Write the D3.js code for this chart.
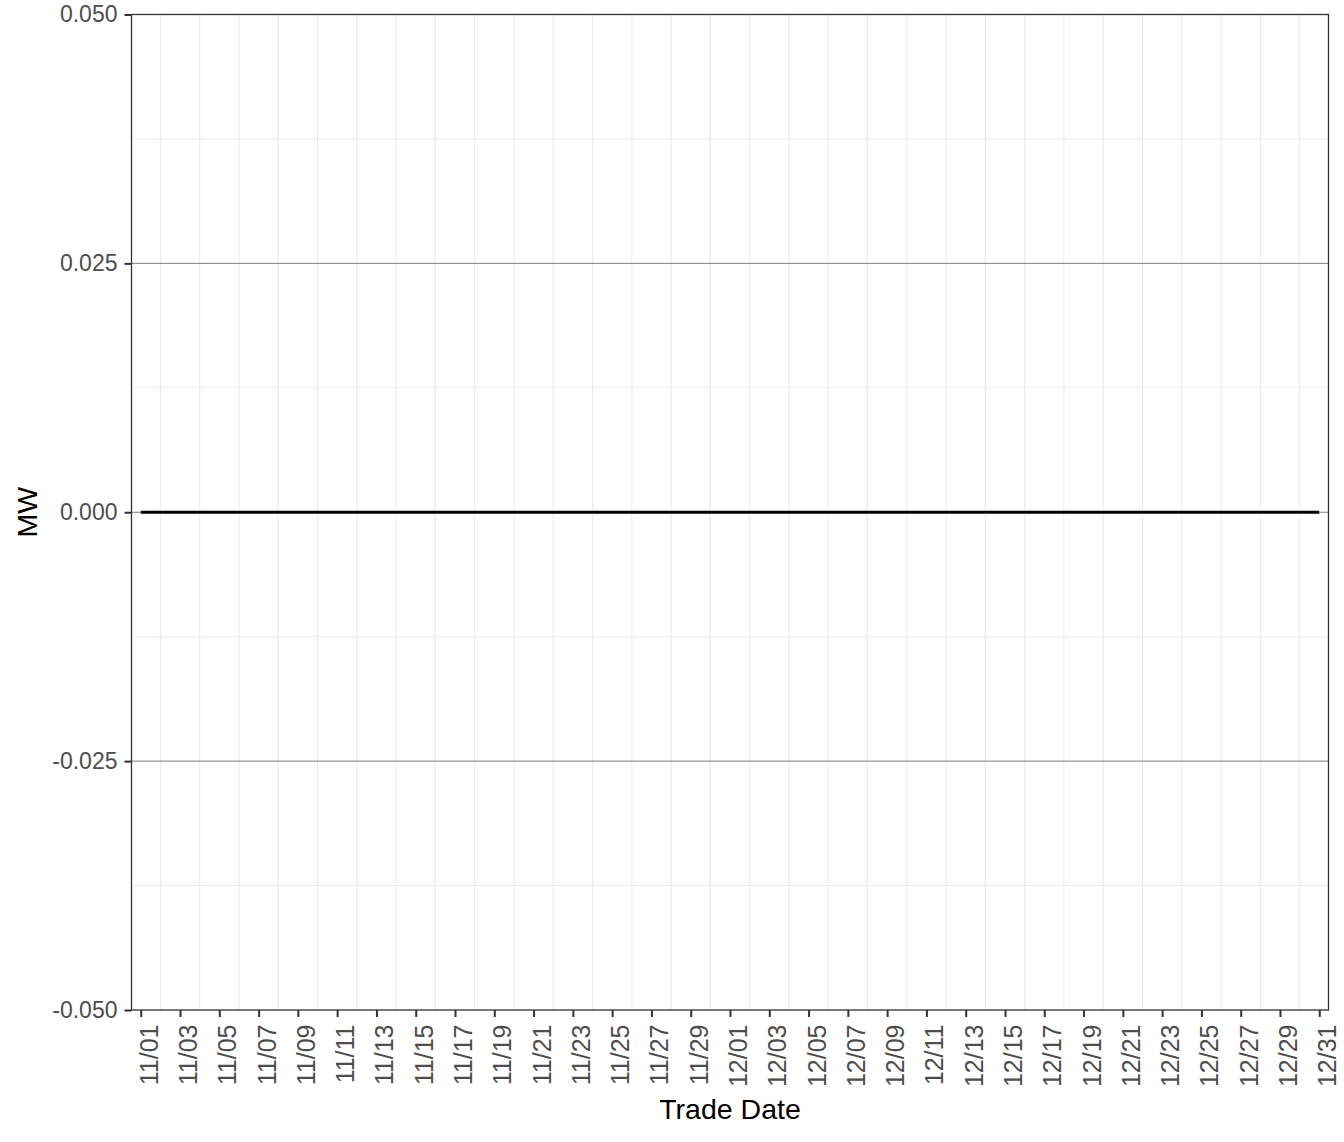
<!DOCTYPE html>
<html>
<head>
<meta charset="utf-8">
<script src="https://cdn.jsdelivr.net/npm/d3@7"></script>
<style>
  body { margin: 0; background: #fff; }
  svg { display: block; font-family: "Liberation Sans", Arial, sans-serif; }
</style>
</head>
<body>
<div id="chart"></div>
<script>
// Trade dates and MW values (flat zero series)
const tradeDates = [
  '2022-11-01','2022-11-02','2022-11-03','2022-11-04','2022-11-05','2022-11-06','2022-11-07','2022-11-08',
  '2022-11-09','2022-11-10','2022-11-11','2022-11-12','2022-11-13','2022-11-14','2022-11-15','2022-11-16',
  '2022-11-17','2022-11-18','2022-11-19','2022-11-20','2022-11-21','2022-11-22','2022-11-23','2022-11-24',
  '2022-11-25','2022-11-26','2022-11-27','2022-11-28','2022-11-29','2022-11-30','2022-12-01','2022-12-02',
  '2022-12-03','2022-12-04','2022-12-05','2022-12-06','2022-12-07','2022-12-08','2022-12-09','2022-12-10',
  '2022-12-11','2022-12-12','2022-12-13','2022-12-14','2022-12-15','2022-12-16','2022-12-17','2022-12-18',
  '2022-12-19','2022-12-20','2022-12-21','2022-12-22','2022-12-23','2022-12-24','2022-12-25','2022-12-26',
  '2022-12-27','2022-12-28','2022-12-29','2022-12-30','2022-12-31'
];
const mwValues = [
  0,0,0,0,0,0,0,0,0,0,
  0,0,0,0,0,0,0,0,0,0,
  0,0,0,0,0,0,0,0,0,0,
  0,0,0,0,0,0,0,0,0,0,
  0,0,0,0,0,0,0,0,0,0,
  0,0,0,0,0,0,0,0,0,0,
  0
];
const xTickLabels = [
  '11/01','11/03','11/05','11/07','11/09','11/11','11/13','11/15','11/17','11/19','11/21',
  '11/23','11/25','11/27','11/29','12/01','12/03','12/05','12/07','12/09','12/11','12/13',
  '12/15','12/17','12/19','12/21','12/23','12/25','12/27','12/29','12/31'
];
const yTicks = [-0.05, -0.025, 0, 0.025, 0.05];
const yTickLabels = ['-0.050', '-0.025', '0.000', '0.025', '0.050'];
const yMinor = [-0.0375, -0.0125, 0.0125, 0.0375];

const width = 1344;
const height = 1142;
const margin = { top: 14.5, right: 15.5, bottom: 132, left: 131.5 };
const titleFont = '28.5px';

const parse = d3.timeParse('%Y-%m-%d');
const data = tradeDates.map((d, i) => ({ date: parse(d), value: mwValues[i] }));
const tickDates = xTickLabels.map(l => parse('2022-' + l.replace('/', '-')));
// gridlines sit on the days between the labelled ticks
const gridDates = data.map(d => d.date).filter(d => !tickDates.some(t => +t === +d));

const pad = 0.47 * 864e5;
const x = d3.scaleTime()
  .domain([+data[0].date - pad, +data[data.length - 1].date + pad])
  .range([margin.left, width - margin.right]);

const y = d3.scaleLinear()
  .domain([-0.05, 0.05])
  .range([height - margin.bottom, margin.top]);

const svg = d3.select('#chart').append('svg')
  .attr('width', width)
  .attr('height', height)
  .attr('viewBox', [0, 0, width, height]);

// Minor horizontal gridlines
svg.append('g')
  .selectAll('line')
  .data(yMinor)
  .join('line')
  .attr('x1', margin.left).attr('x2', width - margin.right)
  .attr('y1', d => y(d)).attr('y2', d => y(d))
  .attr('stroke', '#ebebeb')
  .attr('stroke-width', 1.1);

// Vertical gridlines
svg.append('g')
  .selectAll('line')
  .data(gridDates)
  .join('line')
  .attr('x1', d => x(d)).attr('x2', d => x(d))
  .attr('y1', margin.top).attr('y2', height - margin.bottom)
  .attr('stroke', '#ebebeb')
  .attr('stroke-width', 1.1);

// Major horizontal lines
svg.append('g')
  .selectAll('line')
  .data(yTicks.slice(1, -1))
  .join('line')
  .attr('x1', margin.left).attr('x2', width - margin.right)
  .attr('y1', d => y(d)).attr('y2', d => y(d))
  .attr('stroke', '#6e6e6e')
  .attr('stroke-width', 0.9);

// Series line
svg.append('path')
  .datum(data)
  .attr('fill', 'none')
  .attr('stroke', '#000')
  .attr('stroke-width', 2.8)
  .attr('d', d3.line().x(d => x(d.date)).y(d => y(d.value)));

// Panel border
svg.append('rect')
  .attr('x', margin.left)
  .attr('y', margin.top)
  .attr('width', width - margin.left - margin.right)
  .attr('height', height - margin.top - margin.bottom)
  .attr('fill', 'none')
  .attr('stroke', '#333')
  .attr('stroke-width', 1.3);

// Y axis
const yAxis = svg.append('g')
  .attr('transform', `translate(${margin.left},0)`)
  .call(d3.axisLeft(y).tickValues(yTicks).tickFormat((d, i) => yTickLabels[i]).tickSize(7).tickPadding(7));
yAxis.select('.domain').remove();
yAxis.selectAll('.tick line').attr('stroke', '#333').attr('stroke-width', 2);
yAxis.selectAll('.tick text')
  .attr('fill', '#4d4d4d')
  .style('font-size', '23px')
  .style('font-family', '"Liberation Sans", Arial, sans-serif');

// X axis
const xAxis = svg.append('g')
  .attr('transform', `translate(0,${height - margin.bottom})`)
  .call(d3.axisBottom(x).tickValues(tickDates).tickFormat((d, i) => xTickLabels[i]).tickSize(7));
xAxis.select('.domain').remove();
xAxis.selectAll('.tick line').attr('stroke', '#333').attr('stroke-width', 2);
xAxis.selectAll('.tick text')
  .attr('fill', '#4d4d4d')
  .attr('text-anchor', 'end')
  .attr('dy', null)
  .attr('x', 0)
  .attr('y', 0)
  .attr('transform', 'translate(16.5,14.5) rotate(-90)')
  .style('font-size', '25px')
  .style('font-family', '"Liberation Sans", Arial, sans-serif');

// Axis titles
svg.append('text')
  .attr('x', (margin.left + width - margin.right) / 2)
  .attr('y', 1119)
  .attr('text-anchor', 'middle')
  .style('font-size', titleFont)
  .attr('fill', '#000')
  .text('Trade Date');

svg.append('text')
  .attr('transform', `translate(37,${(margin.top + height - margin.bottom) / 2}) rotate(-90)`)
  .attr('text-anchor', 'middle')
  .style('font-size', titleFont)
  .attr('fill', '#000')
  .text('MW');
</script>
</body>
</html>
